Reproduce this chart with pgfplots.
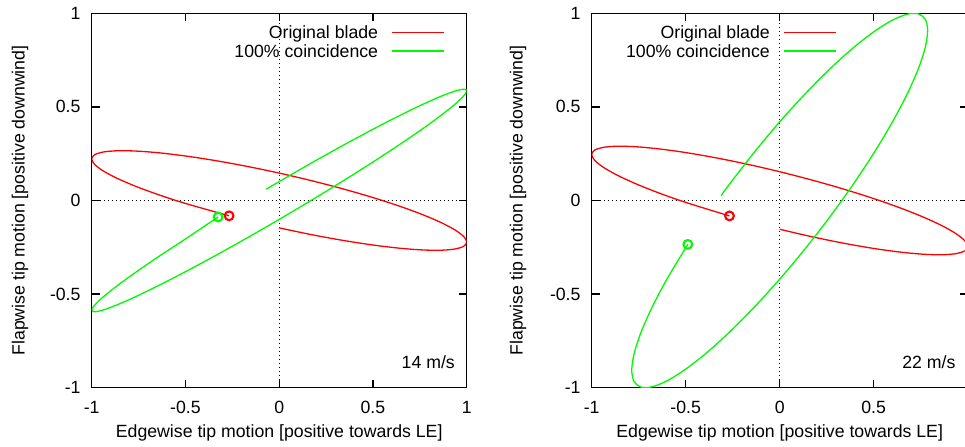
\documentclass[border=0pt]{standalone}
\usepackage{fontspec}
\setmainfont{Liberation Sans}
\usepackage{pgfplots}
\pgfplotsset{compat=1.18}
\definecolor{gpred}{RGB}{255,0,0}
\definecolor{gpgreen}{RGB}{0,250,0}

\pgfplotsset{
  gp/.style={
    scale only axis,
    height=374.4bp,
    xmin=-1, xmax=1, ymin=-1, ymax=1,
    xtick={-1,-0.5,0,0.5,1}, ytick={-1,-0.5,0,0.5,1},
    tick align=inside, major tick length=8bp,
    axis line style={line width=1.4bp},
    tick style={black, line width=1.4bp},
    font=\fontsize{17.7bp}{21bp}\selectfont,
    /pgf/number format/assume math mode=true,
    xticklabel style={anchor=base, yshift=-25.3bp, inner sep=0pt},
    yticklabel style={anchor=east, xshift=-11bp, inner sep=0pt},
    extra x ticks={0}, extra y ticks={0},
    extra x tick labels={}, extra y tick labels={},
    extra tick style={grid=major, major grid style={black, line width=1bp, dash pattern=on 1bp off 3bp}},
    xlabel={Edgewise tip motion [positive towards LE]},
    ylabel={Flapwise tip motion [positive downwind]},
    legend plot pos=right,
    legend image code/.code={\draw[#1, line width=1.3bp] (0bp,6.35bp) -- (52bp,6.35bp);},
    legend style={draw=none, fill=none, inner sep=0pt, outer sep=0pt, row sep=0pt, column sep=11.6bp,
      cells={anchor=base east, inner sep=0pt, text height=13bp, text depth=4.7bp}, anchor=north east},
    every axis plot/.append style={line width=1.3bp},
    startmark/.style={only marks, mark=o, mark size=4.4pt, line width=2.1bp, forget plot},
  }
}

\begin{document}
\begin{tikzpicture}
% ---------------- 14 m/s ----------------
\begin{axis}[gp, width=375bp, at={(91.7bp,59.3bp)}, anchor=south west,
  xlabel style={at={(axis description cs:0.5,-0.121)}, anchor=center},
  ylabel style={at={(axis description cs:-0.191,0.5)}, anchor=center},
  legend style={at={(axis description cs:0.9421,0.9714)}}]
\addplot[gpred, smooth] coordinates {
(-0.2672,-0.0817) (-0.5000,-0.0157) (-0.6428,0.0306) (-0.7660,0.0760)
(-0.8660,0.1191) (-0.9397,0.1586) (-0.9848,0.1933) (-1.0000,0.2221)
(-0.9848,0.2441) (-0.9397,0.2588) (-0.8660,0.2655) (-0.7660,0.2642)
(-0.6428,0.2549) (-0.5000,0.2378) (-0.3420,0.2135) (-0.1736,0.1827)
(0.0000,0.1464) (0.1736,0.1056) (0.3420,0.0616) (0.5000,0.0157)
(0.6428,-0.0306) (0.7660,-0.0760) (0.8660,-0.1191) (0.9397,-0.1586)
(0.9848,-0.1933) (1.0000,-0.2221) (0.9848,-0.2441) (0.9397,-0.2588)
(0.8660,-0.2655) (0.7660,-0.2642) (0.6428,-0.2549) (0.5000,-0.2378)
(0.3420,-0.2135) (0.1736,-0.1827) (0.0000,-0.1464)
};
\addlegendentry{Original blade}
\addplot[gpgreen, smooth] coordinates {
(-0.3256,-0.0880) (-0.5000,-0.2055) (-0.6428,-0.2993) (-0.7660,-0.3840)
(-0.8660,-0.4570) (-0.9397,-0.5162) (-0.9848,-0.5596) (-1.0000,-0.5860)
(-0.9848,-0.5946) (-0.9397,-0.5852) (-0.8660,-0.5580) (-0.7660,-0.5138)
(-0.6428,-0.4541) (-0.5000,-0.3805) (-0.3420,-0.2953) (-0.1736,-0.2012)
(0.0000,-0.1010) (0.1736,0.0022) (0.3420,0.1055) (0.5000,0.2055)
(0.6428,0.2993) (0.7660,0.3840) (0.8660,0.4570) (0.9397,0.5162)
(0.9848,0.5596) (1.0000,0.5860) (0.9848,0.5946) (0.9397,0.5852)
(0.8660,0.5580) (0.7660,0.5138) (0.6428,0.4541) (0.5000,0.3805)
(0.3420,0.2953) (0.1736,0.2012) (0.0000,0.1010) (-0.0690,0.0604)
};
\addlegendentry{100\% coincidence}
\addplot[gpred, startmark] coordinates {(-0.2672,-0.0817)};
\addplot[gpgreen, startmark] coordinates {(-0.3256,-0.0880)};
\node[anchor=base east, inner sep=0pt] at (axis description cs:0.9688,0.0526) {14 m/s};
\end{axis}
% ---------------- 22 m/s ----------------
\begin{axis}[gp, width=376bp, at={(591.7bp,59.3bp)}, anchor=south west,
  xticklabels={-1,-0.5,0,0.5,{}},
  xlabel style={at={(axis description cs:0.5,-0.121)}, anchor=center},
  ylabel style={at={(axis description cs:-0.196,0.5)}, anchor=center},
  legend style={at={(axis description cs:0.6516,0.9714)}}]
\addplot[gpred, smooth] coordinates {
(-0.2672,-0.0824) (-0.5000,-0.0102) (-0.6428,0.0403) (-0.7660,0.0896)
(-0.8660,0.1361) (-0.9397,0.1785) (-0.9848,0.2155) (-1.0000,0.2459)
(-0.9848,0.2688) (-0.9397,0.2836) (-0.8660,0.2898) (-0.7660,0.2872)
(-0.6428,0.2758) (-0.5000,0.2561) (-0.3420,0.2285) (-0.1736,0.1941)
(0.0000,0.1537) (0.1736,0.1087) (0.3420,0.0603) (0.5000,0.0102)
(0.6428,-0.0403) (0.7660,-0.0896) (0.8660,-0.1361) (0.9397,-0.1785)
(0.9848,-0.2155) (1.0000,-0.2459) (0.9848,-0.2688) (0.9397,-0.2836)
(0.8660,-0.2898) (0.7660,-0.2872) (0.6428,-0.2758) (0.5000,-0.2561)
(0.3420,-0.2285) (0.1736,-0.1941) (0.0000,-0.1537)
};
\addlegendentry{Original blade}
\addplot[gpgreen, smooth] coordinates {
(-0.4888,-0.2345) (-0.6028,-0.4251) (-0.6815,-0.5759) (-0.7395,-0.7092)
(-0.7750,-0.8208) (-0.7870,-0.9075) (-0.7750,-0.9666) (-0.7395,-0.9964)
(-0.6815,-0.9959) (-0.6028,-0.9651) (-0.5059,-0.9050) (-0.3935,-0.8175)
(-0.2692,-0.7051) (-0.1366,-0.5711) (0.0000,-0.4200) (0.1366,-0.2561)
(0.2692,-0.0843) (0.3935,0.0901) (0.5059,0.2616) (0.6028,0.4251)
(0.6815,0.5759) (0.7395,0.7092) (0.7750,0.8208) (0.7870,0.9075)
(0.7750,0.9666) (0.7395,0.9964) (0.6815,0.9959) (0.6028,0.9651)
(0.5059,0.9050) (0.3935,0.8175) (0.2692,0.7051) (0.1366,0.5711)
(0.0000,0.4200) (-0.1366,0.2561) (-0.2692,0.0843) (-0.3121,0.0257)
};
\addlegendentry{100\% coincidence}
\addplot[gpred, startmark] coordinates {(-0.2672,-0.0824)};
\addplot[gpgreen, startmark] coordinates {(-0.4888,-0.2345)};
\node[anchor=base east, inner sep=0pt] at (axis description cs:0.968,0.0526) {22 m/s};
\end{axis}
\pgfresetboundingbox
\path[use as bounding box] (0bp,0bp) rectangle (965bp,447bp);
\end{tikzpicture}
\end{document}
